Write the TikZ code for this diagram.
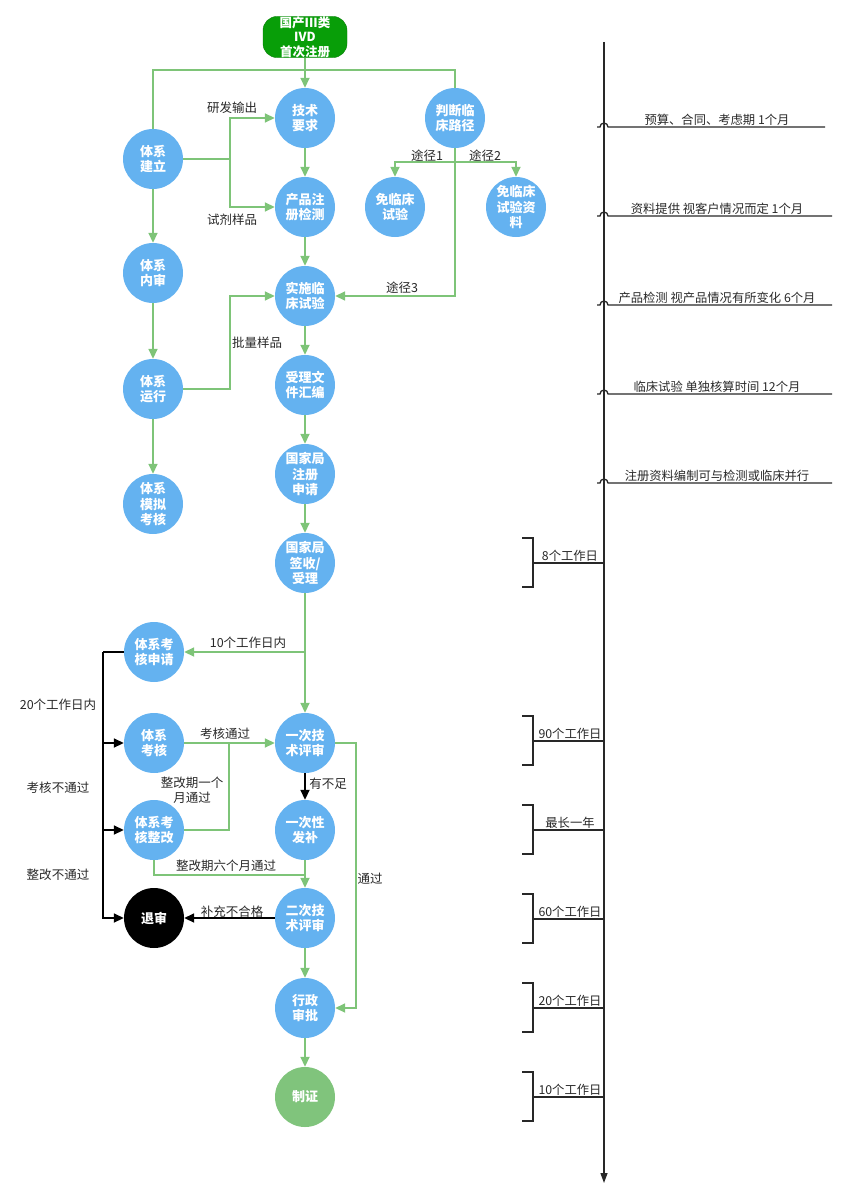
\documentclass[tikz,border=0pt]{standalone}
\usepackage{fontspec}
\setmainfont{Noto Sans CJK SC}
\usetikzlibrary{arrows.meta}

\definecolor{nodeblue}{RGB}{100,178,240}
\definecolor{flowgreen}{RGB}{126,196,120}
\definecolor{startgreen}{RGB}{8,158,8}
\definecolor{certgreen}{RGB}{128,196,124}
\definecolor{darkline}{RGB}{40,40,40}

\begin{document}
\begin{tikzpicture}[x=1pt, y=-1pt,
        stage/.style={circle, fill=nodeblue, minimum size=60pt, inner sep=0pt, text=white, align=center, font=\fontsize{13}{15.5}\selectfont\bfseries},
        startbox/.style={rectangle, rounded corners=14pt, fill=startgreen, draw=startgreen!80!black, minimum width=84pt, minimum height=41pt, inner sep=0pt, text=white, align=center, font=\fontsize{12.5}{14.5}\selectfont\bfseries},
        lbl/.style={text=darkline, align=center, inner sep=1pt, font=\fontsize{12.5}{15}\selectfont},
        note/.style={text=darkline, inner sep=1pt, font=\fontsize{12.3}{14}\selectfont},
        gline/.style={draw=flowgreen, line width=1.7pt},
        garrow/.style={gline, -{Triangle[length=10pt, width=9pt]}},
        bline/.style={draw=black, line width=1.7pt},
        barrow/.style={bline, -{Triangle[length=10pt, width=9pt]}},
        tline/.style={draw=darkline, line width=1.3pt}
    ]
        \useasboundingbox (0,0) rectangle (850,1196);

        % main column
        \node[startbox] (start) at (305,37) {国产III类\\IVD\\首次注册};
        \node[stage] (tech) at (305,118) {技术\\要求};
        \node[stage] (regtest) at (305,207) {产品注\\册检测};
        \node[stage] (clin) at (305,296) {实施临\\床试验};
        \node[stage] (docs) at (305,385) {受理文\\件汇编};
        \node[stage] (nmpa) at (305,474) {国家局\\注册\\申请};
        \node[stage] (accept) at (305,563) {国家局\\签收/\\受理};
        \node[stage] (review1) at (305,743) {一次技\\术评审};
        \node[stage] (supp) at (305,830) {一次性\\发补};
        \node[stage] (review2) at (305,918) {二次技\\术评审};
        \node[stage] (admin) at (305,1008) {行政\\审批};
        \node[stage, fill=certgreen] (cert) at (305,1097) {制证};

        % quality system column
        \node[stage] (sysbuild) at (153,159) {体系\\建立};
        \node[stage] (sysaudit) at (153,273) {体系\\内审};
        \node[stage] (sysrun) at (153,389) {体系\\运行};
        \node[stage] (sysmock) at (153,504) {体系\\模拟\\考核};
        \node[stage] (sysapply) at (154,652) {体系考\\核申请};
        \node[stage] (syscheck) at (154,743) {体系\\考核};
        \node[stage] (sysfix) at (154,830) {体系考\\核整改};
        \node[stage, fill=black] (reject) at (154,918) {退审};

        % clinical path
        \node[stage] (judge) at (455,118) {判断临\\床路径};
        \node[stage] (noclin) at (395,207) {免临床\\试验};
        \node[stage] (noclindoc) at (516,207) {免临床\\试验资\\料};

        \coordinate (top) at (305,70);
        \coordinate (rd) at (230,159);
        \coordinate (fork) at (455,162);
        \coordinate (batch) at (230,389);
        \coordinate (b10) at (305,652);
        \coordinate (lft) at (103,652);
        \coordinate (fix1) at (229,743);
        \coordinate (fix6) at (305,875);
        \coordinate (pass) at (356,743);

        \draw[garrow] (start) -- (tech);
        \draw[gline] (sysbuild) |- (top) -| (judge);
        \draw[garrow] (tech) -- (regtest);
        \draw[gline] (sysbuild) -- (rd);
        \draw[garrow] (rd) |- (tech);
        \draw[garrow] (rd) |- (regtest);
        \draw[garrow] (judge) |- (clin);
        \draw[garrow] (fork) -| (noclin);
        \draw[garrow] (fork) -| (noclindoc);
        \draw[garrow] (sysbuild) -- (sysaudit);
        \draw[garrow] (sysaudit) -- (sysrun);
        \draw[garrow] (sysrun) -- (sysmock);
        \draw[garrow] (sysrun) -- (batch) |- (clin);
        \draw[garrow] (regtest) -- (clin);
        \draw[garrow] (clin) -- (docs);
        \draw[garrow] (docs) -- (nmpa);
        \draw[garrow] (nmpa) -- (accept);
        \draw[garrow] (accept) -- (review1);
        \draw[garrow] (b10) -- (sysapply);

        \draw[bline] (sysapply) -- (lft);
        \draw[barrow] (lft) |- (reject);
        \draw[barrow] (lft |- syscheck) -- (syscheck);
        \draw[barrow] (lft |- sysfix) -- (sysfix);

        \draw[garrow] (syscheck) -- (review1);
        \draw[gline] (sysfix) -| (fix1);
        \draw[barrow] (review1) -- (supp);
        \draw[garrow] (review1) -- (pass) |- (admin);
        \draw[garrow] (supp) -- (review2);
        \draw[gline] (sysfix) |- (fix6);
        \draw[barrow] (review2) -- (reject);
        \draw[garrow] (review2) -- (admin);
        \draw[garrow] (admin) -- (cert);

        % labels
        \node[lbl] (l1) at (232,108) {研发输出};
        \node[lbl] (l2) at (232,220) {试剂样品};
        \node[lbl] (l3) at (427,156) {途径1};
        \node[lbl] (l4) at (485,156) {途径2};
        \node[lbl] (l5) at (402,288) {途径3};
        \node[lbl] (l6) at (257,343) {批量样品};
        \node[lbl] (l7) at (248,643) {10个工作日内};
        \node[lbl] (l8) at (58,705) {20个工作日内};
        \node[lbl] (l9) at (58,788) {考核不通过};
        \node[lbl] (l10) at (58,875) {整改不通过};
        \node[lbl] (l11) at (225,734) {考核通过};
        \node[lbl] (l12) at (192,790) {整改期一个\\月通过};
        \node[lbl] (l13) at (328,784) {有不足};
        \node[lbl] (l14) at (370,879) {通过};
        \node[lbl] (l15) at (226,866) {整改期六个月通过};
        \node[lbl] (l16) at (232,912) {补充不合格};

        % timeline
        \coordinate (ttop) at (604,42);
        \coordinate (tbot) at (604,1183);
        \draw[tline, -{Triangle[length=10pt, width=7pt]}] (ttop) -- (tbot);

        \foreach \y/\w/\txt [count=\i] in {127/825/{预算、合同、考虑期 1个月}, 216/832/{资料提供 视客户情况而定 1个月}, 305/832/{产品检测 视产品情况有所变化 6个月}, 394/832/{临床试验 单独核算时间 12个月}, 483/832/{注册资料编制可与检测或临床并行}} {
            \coordinate (hop\i) at (597,\y);
            \draw[tline] (hop\i) -- ++(3,0) arc[start angle=180, end angle=360, radius=4] -- (\w,\y);
            \node[note] (phase\i) at (717,\y-7) {\txt};
        }

        \foreach \m/\txt [count=\i] in {563/8个工作日, 741/90个工作日, 830/最长一年, 919/60个工作日, 1008/20个工作日, 1097/10个工作日} {
            \coordinate (span\i) at (533,\m);
            \draw[tline] (522,\m-25) -- (533,\m-25) -- (533,\m+24) -- (522,\m+24);
            \draw[tline] (span\i) -- (604,\m);
            \node[note] (days\i) at (570,\m-7) {\txt};
        }
    \end{tikzpicture}
\end{document}
